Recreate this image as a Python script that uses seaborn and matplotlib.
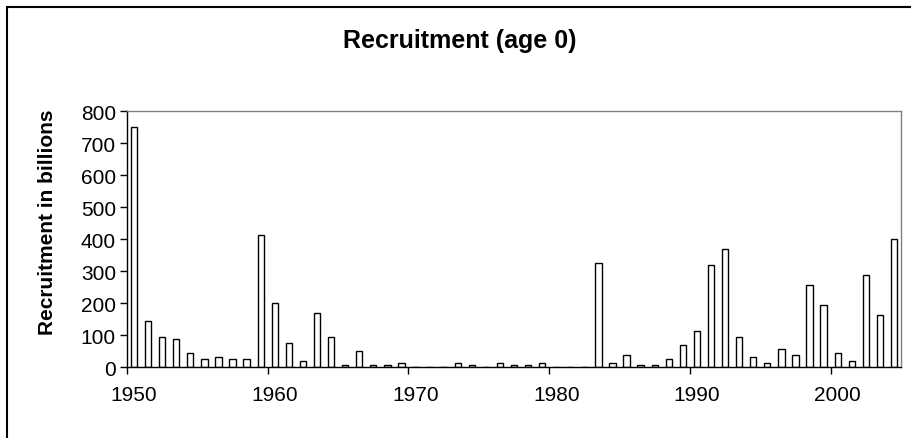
import matplotlib
matplotlib.use('Agg')
import matplotlib.pyplot as plt
import seaborn as sns
from matplotlib.patches import Rectangle

years = list(range(1950, 2005))
recruitment = [750, 143, 93, 87, 43, 24, 30, 24, 24, 412,
               199, 74, 18, 168, 93, 5, 49, 6, 6, 12,
               0, 0, 0, 12, 6, 0, 12, 6, 6, 12,
               0, 0, 0, 325, 12, 37, 5, 5, 24, 68,
               112, 318, 368, 93, 30, 11, 55, 37, 255, 193,
               43, 18, 287, 162, 399]
label_years = [1950, 1960, 1970, 1980, 1990, 2000]

sns.set_style('white')
plt.rcParams['font.family'] = ['Liberation Sans', 'DejaVu Sans']
plt.rcParams['text.color'] = 'black'
plt.rcParams['axes.labelcolor'] = 'black'
plt.rcParams['xtick.color'] = 'black'
plt.rcParams['ytick.color'] = 'black'

W, H = 911, 439
fig = plt.figure(figsize=(W / 100, H / 100), dpi=100)
ax = fig.add_axes([127 / W, 1 - 368 / H, (901 - 127) / W, (368 - 112) / H])

sns.barplot(x=years, y=recruitment, color='white', saturation=1,
            edgecolor='black', linewidth=1, width=0.45, ax=ax)

ax.set_xlim(-0.5, len(years) - 0.5)
ax.set_ylim(0, 800)
ax.set_yticks(range(0, 801, 100))

# labels at category centres, tick marks at category boundaries
pos = [years.index(y) for y in label_years]
ax.set_xticks(pos)
ax.set_xticklabels([str(y) for y in label_years])
ax.set_xticks([p - 0.5 for p in pos], minor=True)
ax.tick_params(axis='x', which='major', length=0, pad=13, labelsize=15)
ax.tick_params(axis='x', which='minor', length=5, width=1, color='black', direction='out', bottom=True)
ax.tick_params(axis='y', length=5, width=1, color='black', direction='out', left=True, labelsize=15, pad=3)

ax.set_xlabel('')
ax.set_ylabel('Recruitment in billions', fontsize=15, fontweight='bold')
ax.yaxis.set_label_coords(57 / W, 1 - 222 / H, transform=fig.transFigure)

for side in ['left', 'bottom']:
    ax.spines[side].set_color('black')
    ax.spines[side].set_linewidth(1)
for side in ['top', 'right']:
    ax.spines[side].set_color('#808080')
    ax.spines[side].set_linewidth(1)

fig.text(460 / W, 1 - 41 / H, 'Recruitment (age 0)', ha='center', va='center',
         fontsize=18, fontweight='bold')

fig.add_artist(Rectangle((7 / W, -0.1), 2, 1.1 - 8 / H, transform=fig.transFigure,
                         fill=False, edgecolor='black', linewidth=1.5))

fig.savefig('out.png', dpi=100)
